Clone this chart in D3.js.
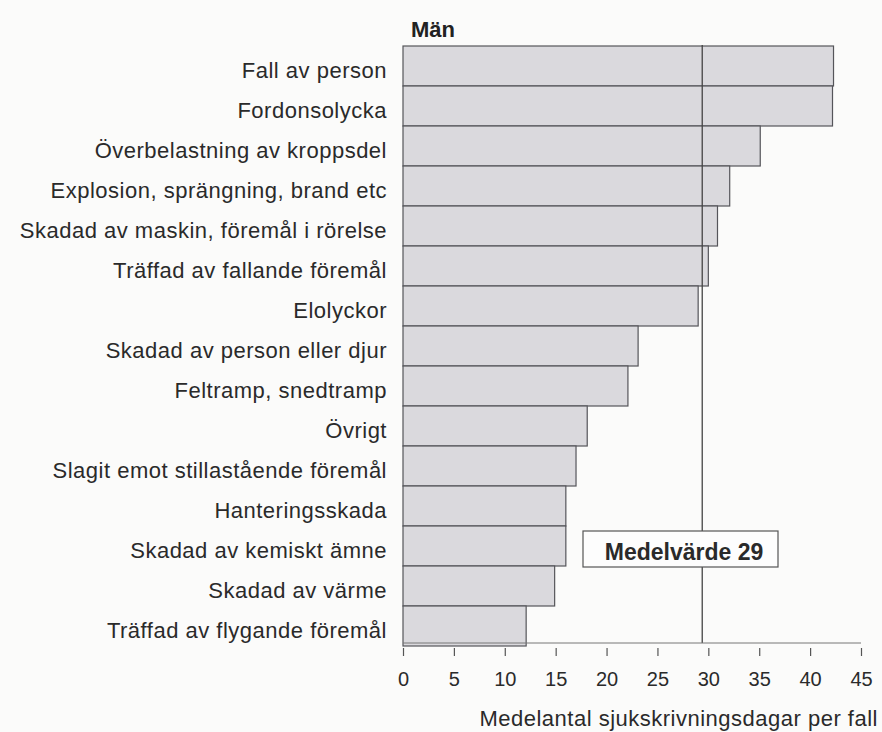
<!DOCTYPE html>
<html>
<head>
<meta charset="utf-8">
<script src="https://cdn.jsdelivr.net/npm/d3@7"></script>
<style>
  body { margin: 0; background: #fbfbfa; }
  svg { font-family: "Liberation Sans", Arial, Helvetica, sans-serif; }
</style>
</head>
<body>
<div id="chart"></div>
<script>
// data
const categories = [
  'Fall av person',
  'Fordonsolycka',
  'Överbelastning av kroppsdel',
  'Explosion, sprängning, brand etc',
  'Skadad av maskin, föremål i rörelse',
  'Träffad av fallande föremål',
  'Elolyckor',
  'Skadad av person eller djur',
  'Feltramp, snedtramp',
  'Övrigt',
  'Slagit emot stillastående föremål',
  'Hanteringsskada',
  'Skadad av kemiskt ämne',
  'Skadad av värme',
  'Träffad av flygande föremål'
];
const values = [42.3, 42.2, 35.1, 32.1, 30.9, 30.0, 29.0, 23.1, 22.1, 18.1, 17.0, 16.0, 16.0, 14.9, 12.1];
const tickValues = [0, 5, 10, 15, 20, 25, 30, 35, 40, 45];
const meanValue = 29.4;
const meanLabel = 'Medelvärde 29';
const title = 'Män';
const xTitle = 'Medelantal sjukskrivningsdagar per fall';

const width = 882;
const height = 732;

const svg = d3.select('#chart')
  .append('svg')
  .attr('width', width)
  .attr('height', height);

const x = d3.scaleLinear()
  .domain([0, 45])
  .range([403, 861]);

const y = d3.scaleBand()
  .domain(categories)
  .range([46, 646])
  .padding(0);

// bars
svg.selectAll('.bar')
  .data(values)
  .enter()
  .append('rect')
  .attr('class', 'bar')
  .attr('x', x(0))
  .attr('y', (d, i) => y(categories[i]))
  .attr('width', d => x(d) - x(0))
  .attr('height', y.bandwidth())
  .attr('fill', '#dad9dd')
  .attr('stroke', '#55555a')
  .attr('stroke-width', 1.2);

// category labels
svg.selectAll('.cat')
  .data(categories)
  .enter()
  .append('text')
  .attr('class', 'cat')
  .attr('x', 387)
  .attr('y', d => y(d) + y.bandwidth() / 2 + 4)
  .attr('dy', '0.35em')
  .attr('text-anchor', 'end')
  .attr('font-size', 22)
  .attr('letter-spacing', 0.5)
  .attr('fill', '#2a2a2a')
  .text(d => d);

// mean line
svg.append('line')
  .attr('x1', x(meanValue))
  .attr('x2', x(meanValue))
  .attr('y1', 45)
  .attr('y2', 643)
  .attr('stroke', '#444')
  .attr('stroke-width', 1.3);

// mean label box
const boxG = svg.append('g');
boxG.append('rect')
  .attr('x', 583)
  .attr('y', 531)
  .attr('width', 195)
  .attr('height', 36)
  .attr('fill', '#fdfdfd')
  .attr('stroke', '#555')
  .attr('stroke-width', 1.2);
boxG.append('text')
  .attr('x', 684)
  .attr('y', 560)
  .attr('text-anchor', 'middle')
  .attr('font-size', 23)
  .attr('font-weight', 'bold')
  .attr('fill', '#2a2a2a')
  .text(meanLabel);

// baseline
svg.append('line')
  .attr('x1', x(0))
  .attr('x2', x(45))
  .attr('y1', 643)
  .attr('y2', 643)
  .attr('stroke', '#777')
  .attr('stroke-width', 1);

// x axis (ticks sit a bit below the baseline)
const axis = svg.append('g')
  .attr('transform', 'translate(0,648)')
  .call(d3.axisBottom(x).tickValues(tickValues).tickSize(8).tickPadding(16));
axis.select('.domain').remove();
axis.selectAll('.tick line').attr('stroke', '#555').attr('stroke-width', 1.2);
axis.selectAll('.tick text')
  .attr('font-size', 20)
  .attr('font-family', '"Liberation Sans", Arial, sans-serif')
  .attr('fill', '#2a2a2a');

// axis title
svg.append('text')
  .attr('x', 878)
  .attr('y', 726)
  .attr('text-anchor', 'end')
  .attr('font-size', 22)
  .attr('letter-spacing', 0.5)
  .attr('fill', '#2a2a2a')
  .text(xTitle);

// chart title
svg.append('text')
  .attr('x', 411)
  .attr('y', 37)
  .attr('font-size', 22)
  .attr('font-weight', 'bold')
  .attr('fill', '#222')
  .text(title);
</script>
</body>
</html>
